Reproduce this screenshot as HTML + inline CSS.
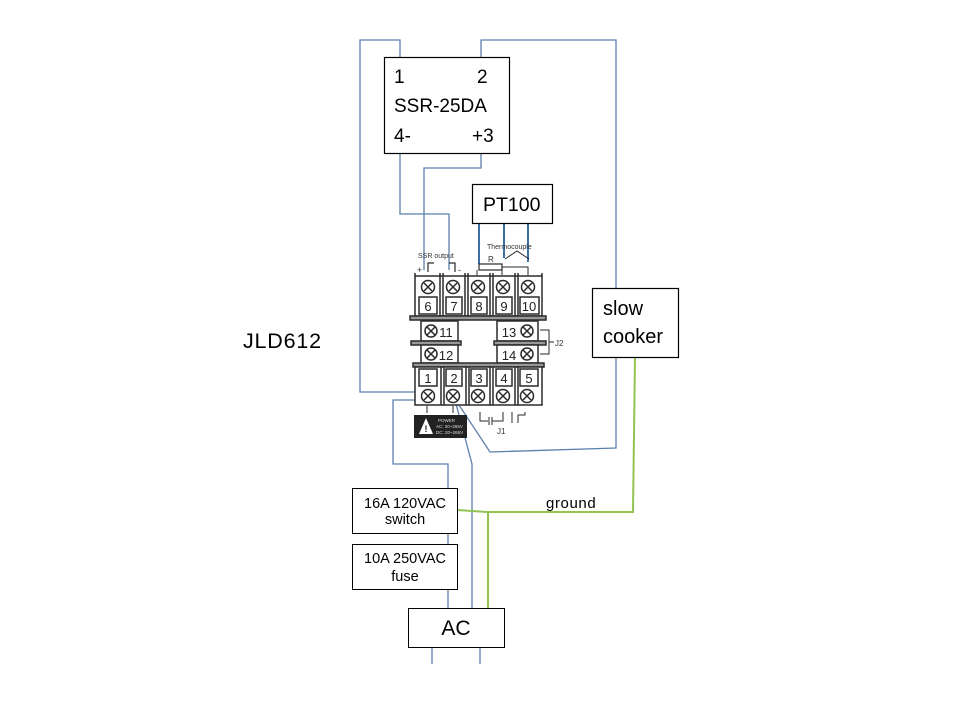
<!DOCTYPE html>
<html><head><meta charset="utf-8"><style>
html,body{margin:0;padding:0;background:#fff;}
svg{display:block;}
text{font-family:"Liberation Sans",Arial,sans-serif;}
</style></head><body>
<svg width="960" height="720" viewBox="0 0 960 720" xmlns="http://www.w3.org/2000/svg">
<rect width="960" height="720" fill="#fff"/>

<!-- blue wires -->
<g fill="none" stroke="#5b80ad" stroke-width="1.3">
  <path d="M400,57 V40 H360 V392 H426"/>
  <path d="M481,57 V40 H616 V288"/>
  <path d="M616,357 V448 L490,452 L457,402"/>
  <path d="M400,153 V214 H449 V270"/>
  <path d="M481,153 V168 H424 V270"/>
  <path d="M433,400 H393 V464 H448 V488"/>
  <path d="M448,533 V544"/>
  <path d="M448,589 V608"/>
  <path d="M455,400 L472,464 V608"/>
  <path d="M432,647 V664"/>
  <path d="M480,647 V664"/>
</g>
<!-- PT100 leads -->
<g fill="none" stroke="#3e6ea8" stroke-width="2">
  <path d="M479,223 V264"/>
  <path d="M504,223 V258"/>
  <path d="M528,223 V262"/>
</g>

<!-- green ground -->
<g fill="none" stroke="#92c350" stroke-width="2">
  <path d="M635,357 L633,512 H487 L457,510"/>
  <path d="M488,512 V608"/>
</g>

<!-- SSR box -->
<rect x="384.5" y="57.5" width="125" height="96" fill="#fff" stroke="#000" stroke-width="1.2"/>
<text x="394" y="83" font-size="19">1</text>
<text x="477" y="83" font-size="19">2</text>
<text x="394" y="112" font-size="19">SSR-25DA</text>
<text x="394" y="142" font-size="19">4-</text>
<text x="472" y="142" font-size="19">+3</text>

<!-- PT100 -->
<rect x="472.5" y="184.5" width="80" height="39" fill="#fff" stroke="#000" stroke-width="1.2"/>
<text x="483" y="211" font-size="19.5">PT100</text>

<!-- slow cooker -->
<rect x="592.5" y="288.5" width="86" height="69" fill="#fff" stroke="#000" stroke-width="1.2"/>
<text x="603" y="315" font-size="20">slow</text>
<text x="603" y="343" font-size="20">cooker</text>

<!-- JLD612 -->
<text x="243" y="348" font-size="21.5" letter-spacing="0.8">JLD612</text>

<!-- switch / fuse / AC -->
<rect x="352.5" y="488.5" width="105" height="45" fill="#fff" stroke="#000" stroke-width="1"/>
<text x="405" y="508" font-size="14.5" text-anchor="middle">16A 120VAC</text>
<text x="405" y="524" font-size="14.5" text-anchor="middle">switch</text>
<rect x="352.5" y="544.5" width="105" height="45" fill="#fff" stroke="#000" stroke-width="1"/>
<text x="405" y="563" font-size="14.5" text-anchor="middle">10A 250VAC</text>
<text x="405" y="581" font-size="14.5" text-anchor="middle">fuse</text>
<rect x="408.5" y="608.5" width="96" height="39" fill="#fff" stroke="#000" stroke-width="1"/>
<text x="456" y="635" font-size="21" text-anchor="middle">AC</text>

<text x="546" y="508" font-size="15" letter-spacing="0.6">ground</text>

<!-- Terminal block -->
<g stroke="#2a2a2a" fill="none" stroke-width="1.5">
  <!-- labels above -->
  <path d="M428,272 V263 H434" stroke-width="1.2"/>
  <path d="M449,263 H455 V272" stroke-width="1.2"/>
  <rect x="479" y="264" width="23" height="6" stroke-width="1.2"/>
  <path d="M477,270 V275 M502,267 H528 V275 M502,270 V275" stroke-width="1"/>
  <path d="M505,259 L517,251 L529,259" stroke-width="1"/>
  <!-- top block -->
  <rect x="415" y="276" width="127" height="40" fill="#fff"/>
  <path d="M440,273 V316 M443,273 V316 M465,273 V316 M468,273 V316 M490,273 V316 M493,273 V316 M515,273 V316 M518,273 V316"/>
  <path d="M415,273 V276 M542,273 V276"/>
  <rect x="419" y="297" width="18" height="17"/>
  <rect x="446" y="297" width="16" height="17"/>
  <rect x="471" y="297" width="16" height="17"/>
  <rect x="496" y="297" width="16" height="17"/>
  <rect x="520" y="297" width="19" height="17"/>
  <rect x="410" y="316" width="136" height="4" fill="#999"/>
  <!-- middle -->
  <rect x="421" y="321" width="37" height="20" fill="#fff"/>
  <rect x="411" y="341" width="50" height="4" fill="#999"/>
  <rect x="421" y="345" width="37" height="18" fill="#fff"/>
  <rect x="497" y="321" width="41" height="20" fill="#fff"/>
  <rect x="494" y="341" width="52" height="4" fill="#999"/>
  <rect x="497" y="345" width="41" height="18" fill="#fff"/>
  <path d="M540,330 H549 V354 H540 M549,342 H554" stroke-width="1"/>
  <!-- bottom block -->
  <rect x="413" y="363" width="131" height="4" fill="#999"/>
  <rect x="415" y="367" width="127" height="38" fill="#fff"/>
  <path d="M441,367 V405 M444,367 V405 M466,367 V405 M469,367 V405 M490,367 V405 M493,367 V405 M515,367 V405 M518,367 V405"/>
  <rect x="419" y="369" width="18" height="17"/>
  <rect x="446" y="369" width="16" height="17"/>
  <rect x="471" y="369" width="16" height="17"/>
  <rect x="496" y="369" width="16" height="17"/>
  <rect x="520" y="369" width="18" height="17"/>
  <path d="M427,406 V413 M453,406 V413" stroke-width="1"/>
  <!-- J1 -->
  <path d="M480,412 V421 H488 M489,417 V425 M492,417 V425 M492,421 H503 V412 M512,412 V423 M518,423 V415 H525 V412" stroke-width="1"/>
</g>
<!-- screws -->
<g stroke="#2a2a2a" stroke-width="1.5" fill="#fff">
  <g transform="translate(428,287)"><circle r="6.5"/><path d="M-4,-4 L4,4 M4,-4 L-4,4"/></g>
  <g transform="translate(453,287)"><circle r="6.5"/><path d="M-4,-4 L4,4 M4,-4 L-4,4"/></g>
  <g transform="translate(478,287)"><circle r="6.5"/><path d="M-4,-4 L4,4 M4,-4 L-4,4"/></g>
  <g transform="translate(503,287)"><circle r="6.5"/><path d="M-4,-4 L4,4 M4,-4 L-4,4"/></g>
  <g transform="translate(528,287)"><circle r="6.5"/><path d="M-4,-4 L4,4 M4,-4 L-4,4"/></g>
  <g transform="translate(431,331)"><circle r="6"/><path d="M-4,-4 L4,4 M4,-4 L-4,4"/></g>
  <g transform="translate(431,354)"><circle r="6"/><path d="M-4,-4 L4,4 M4,-4 L-4,4"/></g>
  <g transform="translate(527,331)"><circle r="6"/><path d="M-4,-4 L4,4 M4,-4 L-4,4"/></g>
  <g transform="translate(527,354)"><circle r="6"/><path d="M-4,-4 L4,4 M4,-4 L-4,4"/></g>
  <g transform="translate(428,396)"><circle r="6.5"/><path d="M-4,-4 L4,4 M4,-4 L-4,4"/></g>
  <g transform="translate(453,396)"><circle r="6.5"/><path d="M-4,-4 L4,4 M4,-4 L-4,4"/></g>
  <g transform="translate(478,396)"><circle r="6.5"/><path d="M-4,-4 L4,4 M4,-4 L-4,4"/></g>
  <g transform="translate(503,396)"><circle r="6.5"/><path d="M-4,-4 L4,4 M4,-4 L-4,4"/></g>
  <g transform="translate(527,396)"><circle r="6.5"/><path d="M-4,-4 L4,4 M4,-4 L-4,4"/></g>
</g>
<!-- terminal numbers -->
<g font-size="13" fill="#222" text-anchor="middle">
  <text x="428" y="311">6</text>
  <text x="454" y="311">7</text>
  <text x="479" y="311">8</text>
  <text x="504" y="311">9</text>
  <text x="529" y="311">10</text>
  <text x="446" y="337">11</text>
  <text x="446" y="360">12</text>
  <text x="509" y="337">13</text>
  <text x="509" y="360">14</text>
  <text x="428" y="383">1</text>
  <text x="454" y="383">2</text>
  <text x="479" y="383">3</text>
  <text x="504" y="383">4</text>
  <text x="529" y="383">5</text>
</g>
<g font-size="7" fill="#333">
  <text x="418" y="258">SSR output</text>
  <text x="487" y="249">Thermocouple</text>
  <text x="488" y="262" font-size="8">R</text>
  <text x="417" y="273" font-size="9">+</text>
  <text x="458" y="273" font-size="9">-</text>
  <text x="555" y="346" font-size="8">J2</text>
  <text x="497" y="434" font-size="8">J1</text>
</g>
<!-- power label -->
<rect x="414" y="415" width="53" height="23" fill="#222"/>
<path d="M426,418 L433,434 L419,434 Z" fill="#fff"/>
<text x="426" y="432" font-size="9" fill="#222" text-anchor="middle" font-weight="bold">!</text>
<g font-size="4.5" fill="#ddd">
  <text x="438" y="422">POWER</text>
  <text x="436" y="428">AC: 20~265V</text>
  <text x="436" y="434">DC: 20~265V</text>
</g>
</svg>
</body></html>
